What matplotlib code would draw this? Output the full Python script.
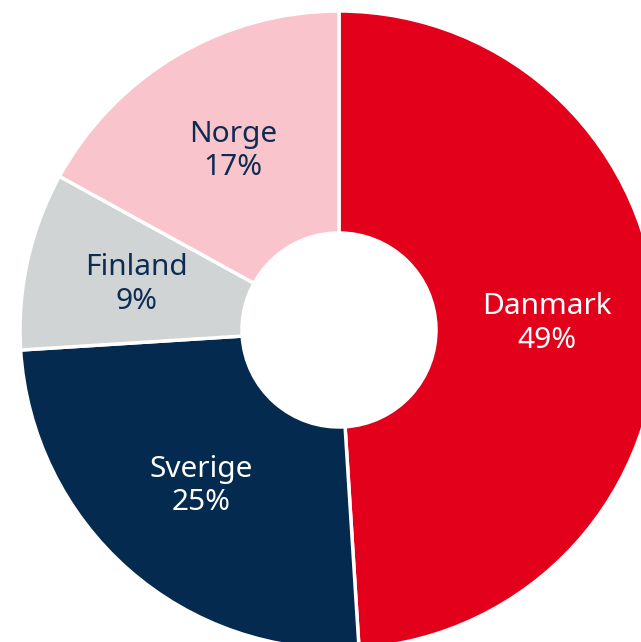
import matplotlib
matplotlib.use("Agg")
import matplotlib.pyplot as plt

countries = ["Danmark", "Sverige", "Finland", "Norge"]
shares = [49, 25, 9, 17]
colors = ["#e3001b", "#042a4f", "#d1d4d4", "#f9c4cc"]
text_colors = ["white", "white", "#0d2c52", "#0d2c52"]

W, H = 641, 642
fig = plt.figure(figsize=(W / 100, H / 100), dpi=100)
ax = fig.add_axes([0, 0, 1, 1])
cx, cy = 339, 330  # centre in pixels from top-left
R = 319
r_in = 97

labels = [f"{c}\n{s}%" for c, s in zip(countries, shares)]
wedges, texts = ax.pie(
    shares, colors=colors, labels=labels, startangle=90, counterclock=False,
    radius=R, labeldistance=208 / R,
    wedgeprops=dict(width=R - r_in, edgecolor="white", linewidth=2.5),
    textprops=dict(fontsize=21.5, fontweight="light", family=["Noto Sans", "DejaVu Sans"]),
)
for t, c in zip(texts, text_colors):
    t.set_color(c)
    t.set_ha("center")
    t.set_va("center")
    t.set_linespacing(1.2)

ax.set_xlim(-cx, W - cx)
ax.set_ylim(-(H - cy), cy)
ax.set_aspect("equal")
ax.axis("off")
fig.savefig("out.png", dpi=100)
